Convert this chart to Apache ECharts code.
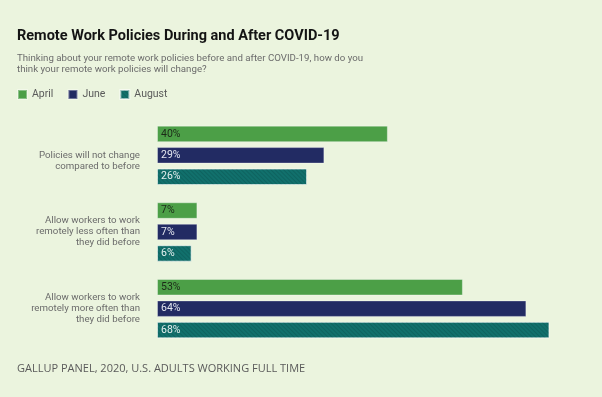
<!DOCTYPE html>
<html>
<head>
<meta charset="utf-8">
<script src="https://cdn.jsdelivr.net/npm/echarts@6/dist/echarts.min.js"></script>
<style>
  html, body { margin: 0; padding: 0; background: #ebf4de; }
  #main { width: 602px; height: 397px; }
</style>
</head>
<body>
<div id="main"></div>
<script>
var categories = [
    'Policies will not change\ncompared to before',
    'Allow workers to work\nremotely less often than\nthey did before',
    'Allow workers to work\nremotely more often than\nthey did before'
];
var april = [40, 7, 53];
var june = [29, 7, 64];
var august = [26, 6, 68];

var myChart = echarts.init(document.getElementById('main'));

function barLabel(color) {
    return {
        show: true,
        position: 'insideLeft',
        distance: 4,
        formatter: '{c}%',
        color: color,
        fontSize: 10.5,
        fontFamily: 'Roboto'
    };
}

var option = {
    backgroundColor: '#ebf4de',
    textStyle: { fontFamily: 'Roboto' },
    title: {
        text: 'Remote Work Policies During and After COVID-19',
        subtext: 'Thinking about your remote work policies before and after COVID-19, how do you\nthink your remote work policies will change?',
        left: 12,
        top: 24,
        itemGap: 9,
        textStyle: { fontSize: 14.5, fontWeight: 'bold', color: '#141414', fontFamily: 'Roboto' },
        subtextStyle: { fontSize: 9.7, color: '#6b6b6b', lineHeight: 11, fontFamily: 'Roboto' }
    },
    legend: {
        left: 12,
        top: 84,
        icon: 'rect',
        itemWidth: 9,
        itemHeight: 9,
        itemGap: 14,
        textStyle: { fontSize: 10.5, color: '#5a5a5a', fontFamily: 'Roboto' },
        data: ['April', 'June', 'August']
    },
    grid: { left: 157, right: 41, top: 117, bottom: 50 },
    xAxis: {
        type: 'value',
        min: 0,
        max: 70,
        show: false
    },
    yAxis: {
        type: 'category',
        inverse: true,
        data: categories,
        axisLine: { show: false },
        axisTick: { show: false },
        axisLabel: {
            margin: 17,
            fontSize: 9.7,
            lineHeight: 11,
            color: '#6b6b6b',
            align: 'right',
            // the two-line label sits a line lower than its bar group centre
            formatter: function (v, i) {
                return v.split('\n').length === 2 ? '\n' + v : v;
            }
        }
    },
    graphic: [{
        type: 'text',
        left: 17,
        top: 363,
        style: {
            text: 'GALLUP PANEL, 2020, U.S. ADULTS WORKING FULL TIME',
            fontSize: 11,
            fontFamily: 'Open Sans',
            fill: '#5a5a5a'
        }
    }],
    series: [
        {
            name: 'April',
            type: 'bar',
            barWidth: 16.5,
            barGap: '30%',
            data: april,
            itemStyle: { color: '#4c9f47', borderColor: 'rgba(255,255,255,0.35)', borderWidth: 1 },
            label: barLabel('#1c2a18')
        },
        {
            name: 'June',
            type: 'bar',
            barWidth: 16.5,
            barGap: '30%',
            data: june,
            itemStyle: { color: '#222b63', borderColor: 'rgba(255,255,255,0.35)', borderWidth: 1 },
            label: barLabel('#e4e7f0')
        },
        {
            name: 'August',
            type: 'bar',
            barWidth: 16.5,
            barGap: '30%',
            data: august,
            itemStyle: {
                color: '#11706c',
                borderColor: 'rgba(255,255,255,0.35)',
                borderWidth: 1,
                decal: {
                    symbol: 'rect',
                    symbolSize: 1,
                    color: 'rgba(0,40,40,0.18)',
                    dashArrayX: [1, 0],
                    dashArrayY: [1, 2],
                    rotation: Math.PI / 4
                }
            },
            label: barLabel('#e4eeee')
        }
    ]
};
myChart.setOption(option);
</script>
</body>
</html>
